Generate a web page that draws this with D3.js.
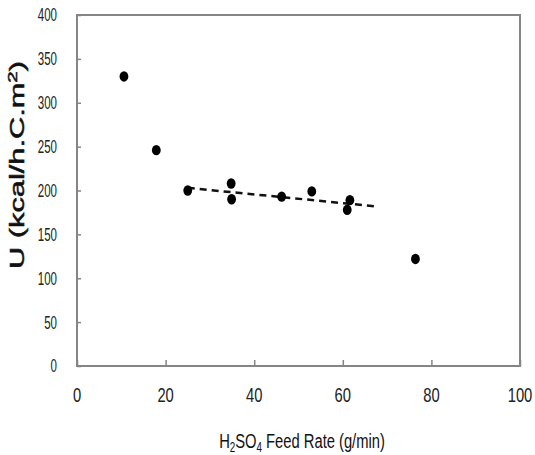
<!DOCTYPE html>
<html>
<head>
<meta charset="utf-8">
<script src="https://cdn.jsdelivr.net/npm/d3@7"></script>
<style>
  html, body { margin: 0; padding: 0; background: #fff; }
  svg { display: block; }
  .tick-label { font-family: "Liberation Sans", Arial, sans-serif; fill: #222; }
</style>
</head>
<body>
<svg id="chart" width="535" height="455"></svg>
<script>
// Feed rate (g/min) and overall heat transfer coefficient U
const feedRate = [10.6, 17.9, 25.0, 34.8, 34.9, 46.2, 53.0, 61.6, 61.0, 76.4];
const uValues  = [330, 246, 200, 208, 190, 193, 199, 189, 178, 122];

// Linear trend over the mid-range points (end points)
const trendX = [25, 67.3];
const trendY = [203, 182];

const xTicks = [0, 20, 40, 60, 80, 100];
const yTicks = [0, 50, 100, 150, 200, 250, 300, 350, 400];

const svg = d3.select("#chart");
const plot = { left: 77, right: 520, top: 15, bottom: 366 };

const x = d3.scaleLinear().domain([0, 100]).range([plot.left, plot.right]);
const y = d3.scaleLinear().domain([0, 400]).range([plot.bottom, plot.top]);

const frameColor = "#858585";

// plot frame
svg.append("rect")
  .attr("x", plot.left).attr("y", plot.top)
  .attr("width", plot.right - plot.left).attr("height", plot.bottom - plot.top)
  .attr("fill", "none").attr("stroke", frameColor).attr("stroke-width", 2);

// y axis: inward ticks
const yAxis = svg.append("g")
  .attr("transform", `translate(${plot.left},0)`)
  .call(d3.axisRight(y).tickValues(yTicks).tickSize(4).tickFormat(""));
yAxis.select(".domain").remove();
yAxis.selectAll(".tick line").attr("stroke", frameColor).attr("stroke-width", 1.5);

// y tick labels, narrow figures
svg.append("g").selectAll("text")
  .data(yTicks).join("text")
  .attr("class", "tick-label")
  .attr("transform", d => `translate(${plot.left - 20},${y(d)}) scale(0.64,1)`)
  .attr("dy", "0.36em")
  .attr("text-anchor", "end")
  .style("font-size", "18px")
  .text(d => d);

// x axis: inward ticks
const xAxis = svg.append("g")
  .attr("transform", `translate(0,${plot.bottom})`)
  .call(d3.axisTop(x).tickValues(xTicks).tickSize(6).tickFormat(""));
xAxis.select(".domain").remove();
xAxis.selectAll(".tick line").attr("stroke", frameColor).attr("stroke-width", 1.5);

svg.append("g").selectAll("text")
  .data(xTicks).join("text")
  .attr("class", "tick-label")
  .attr("transform", d => `translate(${x(d)},401.5) scale(0.72,1)`)
  .attr("text-anchor", "middle")
  .style("font-size", "20.5px")
  .text(d => d);

// dashed trend line
svg.append("line")
  .attr("x1", x(trendX[0])).attr("y1", y(trendY[0]))
  .attr("x2", x(trendX[1])).attr("y2", y(trendY[1]))
  .attr("stroke", "#111").attr("stroke-width", 2.5)
  .attr("stroke-dasharray", "7,5");

// data points
svg.append("g").selectAll("ellipse")
  .data(feedRate.map((d, i) => [d, uValues[i]]))
  .join("ellipse")
  .attr("cx", d => x(d[0]))
  .attr("cy", d => y(d[1]))
  .attr("rx", 4.4).attr("ry", 5.2)
  .attr("fill", "#000");

// stretch/compress a title along its own direction to a given length
function fitLength(sel, target) {
  const w = sel.node().getComputedTextLength();
  return target / w;
}

// y title
const yTitle = svg.append("text")
  .attr("text-anchor", "middle")
  .style("font-family", "'Liberation Sans', Arial, sans-serif")
  .style("font-size", "19.5px")
  .attr("fill", "#111")
  .attr("stroke", "#111").attr("stroke-width", 0.5)
  .html('U (kcal/h.C.m<tspan dy="-7" font-size="13px">2</tspan><tspan dy="7">)</tspan>');
const ys = fitLength(yTitle, 208);
yTitle.attr("transform", `translate(23.5,165) rotate(-90) scale(${ys},1)`);

// x title
const xTitle = svg.append("text")
  .attr("text-anchor", "middle")
  .style("font-family", "'Liberation Sans', Arial, sans-serif")
  .style("font-size", "21px")
  .attr("fill", "#111")
  .html('H<tspan dy="4" font-size="14px">2</tspan><tspan dy="-4">SO</tspan><tspan dy="4" font-size="14px">4</tspan><tspan dy="-4"> Feed Rate (g/min)</tspan>');
const xs = fitLength(xTitle, 166);
xTitle.attr("transform", `translate(302,448) scale(${xs},1)`);
</script>
</body>
</html>
